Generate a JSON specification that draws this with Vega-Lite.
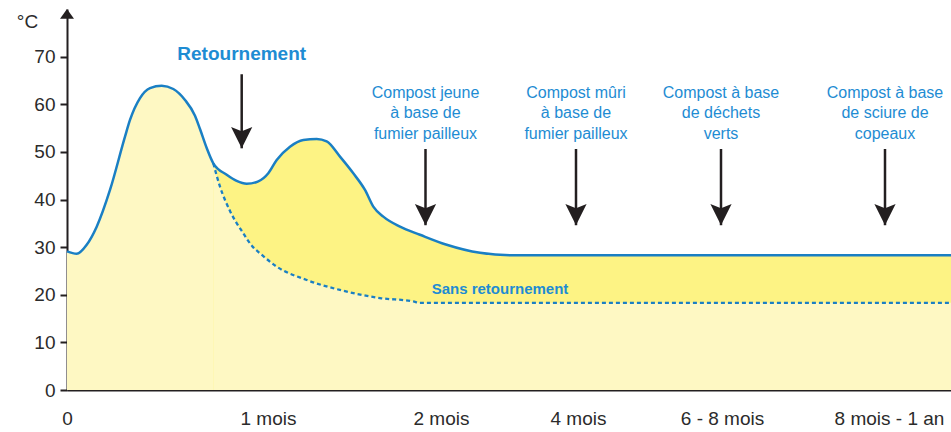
{
  "$schema": "https://vega.github.io/schema/vega-lite/v6.json",
  "width": 884,
  "height": 381,
  "autosize": {"type": "none"},
  "padding": {"left": 67, "top": 9, "right": 0, "bottom": 42},
  "background": "white",
  "config": {"view": {"stroke": null}, "font": "Liberation Sans"},
  "datasets": {
    "main": [
      {"x": 0, "y": 29.1}, {"x": 9.7, "y": 28.6}, {"x": 19.7, "y": 30.5}, {"x": 29.7, "y": 34.3},
      {"x": 43, "y": 42}, {"x": 58, "y": 53.2}, {"x": 63, "y": 56.7}, {"x": 73, "y": 61.3},
      {"x": 83, "y": 63.4}, {"x": 94.7, "y": 63.9}, {"x": 106.3, "y": 63.2}, {"x": 118, "y": 60.9},
      {"x": 128, "y": 57.6}, {"x": 133, "y": 54.8}, {"x": 139.7, "y": 50.8}, {"x": 146.3, "y": 47.6},
      {"x": 159.7, "y": 45.2}, {"x": 169.7, "y": 43.9}, {"x": 179.7, "y": 43.3}, {"x": 191.3, "y": 43.8},
      {"x": 201.3, "y": 45.5}, {"x": 209.7, "y": 48.3}, {"x": 223, "y": 51.1}, {"x": 236.3, "y": 52.5},
      {"x": 249.7, "y": 52.7}, {"x": 259.7, "y": 52.2}, {"x": 273, "y": 49}, {"x": 286.3, "y": 45.5},
      {"x": 298, "y": 42}, {"x": 306.3, "y": 38.5}, {"x": 316.3, "y": 36.4}, {"x": 333, "y": 34.3},
      {"x": 353, "y": 32.6}, {"x": 379.7, "y": 30.5}, {"x": 413, "y": 28.8}, {"x": 443, "y": 28.3},
      {"x": 884, "y": 28.3}
    ],
    "sans": [
      {"x": 146.3, "y": 47.6}, {"x": 153, "y": 42.7}, {"x": 163, "y": 37.6}, {"x": 176.3, "y": 32.9},
      {"x": 186, "y": 30}, {"x": 193, "y": 28.7}, {"x": 209.7, "y": 25.9}, {"x": 239.7, "y": 23.1},
      {"x": 273, "y": 21}, {"x": 313, "y": 19.3}, {"x": 346.3, "y": 18.6}, {"x": 353, "y": 18.3},
      {"x": 884, "y": 18.3}
    ],
    "arrows": [
      {"x": 174.7, "y": 66.3, "y2": 50.75},
      {"x": 358.5, "y": 50.6, "y2": 34.6},
      {"x": 509, "y": 50.6, "y2": 34.6},
      {"x": 654, "y": 50.6, "y2": 34.6},
      {"x": 818, "y": 50.6, "y2": 34.6}
    ],
    "notes": [
      {"x": 358.5, "y": 62.4, "label": "Compost jeune\nà base de\nfumier pailleux"},
      {"x": 509, "y": 62.4, "label": "Compost mûri\nà base de\nfumier pailleux"},
      {"x": 654, "y": 62.4, "label": "Compost à base\nde déchets\nverts"},
      {"x": 818, "y": 62.4, "label": "Compost à base\nde sciure de\ncopeaux"}
    ],
    "titles": [
      {"x": 174.7, "y": 70.6, "label": "Retournement", "kind": "big"},
      {"x": 433, "y": 21.2, "label": "Sans retournement", "kind": "small"}
    ],
    "yarrow": [{"x": 0, "y": 80}]
  },
  "encoding": {
    "x": {
      "field": "x", "type": "quantitative",
      "scale": {"domain": [0, 884], "nice": false, "zero": false},
      "axis": {
        "title": null,
        "values": [0, 201, 374, 511, 655, 822],
        "labelExpr": "datum.value == 0 ? '0' : datum.value == 201 ? '1 mois' : datum.value == 374 ? '2 mois' : datum.value == 511 ? '4 mois' : datum.value == 655 ? '6 - 8 mois' : '8 mois - 1 an'",
        "ticks": false, "grid": false,
        "domainColor": "#231f20", "domainWidth": 2,
        "labelFont": "Liberation Sans", "labelFontSize": 19, "labelColor": "#2b2b2b",
        "labelPadding": 19, "labelOverlap": false, "labelFlush": false, "labelBound": false
      }
    },
    "y": {
      "field": "y", "type": "quantitative",
      "scale": {"domain": [0, 80], "nice": false},
      "axis": {
        "title": "°C", "titleAngle": 0, "titleX": -40, "titleY": 12,
        "titleAlign": "center", "titleBaseline": "middle",
        "titleFont": "Liberation Sans", "titleFontSize": 19, "titleFontWeight": "normal", "titleColor": "#2b2b2b",
        "values": [0, 10, 20, 30, 40, 50, 60, 70],
        "grid": false, "tickSize": 7, "tickWidth": 2, "tickColor": "#231f20",
        "domainColor": "#231f20", "domainWidth": 2,
        "labelFont": "Liberation Sans", "labelFontSize": 19, "labelColor": "#2b2b2b", "labelPadding": 5
      }
    }
  },
  "layer": [
    {"data": {"name": "main"}, "mark": {"type": "area", "interpolate": "monotone", "color": "#fef8c3"}},
    {"data": {"name": "main"}, "transform": [{"filter": "datum.x >= 146.3"}], "mark": {"type": "area", "interpolate": "monotone", "color": "#fdf384"}},
    {"data": {"name": "sans"}, "mark": {"type": "area", "interpolate": "monotone", "color": "#fef8c3"}},
    {"data": {"name": "main"}, "mark": {"type": "line", "interpolate": "monotone", "color": "#1a7fc4", "strokeWidth": 2.5}},
    {"data": {"name": "sans"}, "mark": {"type": "line", "interpolate": "monotone", "color": "#1a7fc4", "strokeWidth": 2.3, "strokeDash": [4, 3]}},
    {"data": {"name": "arrows"}, "mark": {"type": "rule", "color": "#231f20", "strokeWidth": 2.5}, "encoding": {"y2": {"field": "y2"}}},
    {"data": {"name": "arrows"}, "mark": {"type": "point", "shape": "M0,0 L-1,-2 L0,-1.6 L1,-2 Z", "filled": true, "color": "#231f20", "opacity": 1, "size": 450}, "encoding": {"y": {"field": "y2", "type": "quantitative"}}},
    {"data": {"name": "notes"}, "mark": {"type": "text", "align": "center", "baseline": "middle", "lineBreak": "\n", "lineHeight": 20.5, "font": "Liberation Sans", "fontSize": 16, "color": "#1e8cd3"}, "encoding": {"text": {"field": "label"}}},
    {"data": {"name": "titles"}, "transform": [{"filter": "datum.kind == 'big'"}], "mark": {"type": "text", "align": "center", "baseline": "middle", "font": "Liberation Sans", "fontSize": 19, "fontWeight": "bold", "color": "#1e8cd3"}, "encoding": {"text": {"field": "label"}}},
    {"data": {"name": "titles"}, "transform": [{"filter": "datum.kind == 'small'"}], "mark": {"type": "text", "align": "center", "baseline": "middle", "font": "Liberation Sans", "fontSize": 15, "fontWeight": "bold", "color": "#1e8cd3"}, "encoding": {"text": {"field": "label"}}},
    {"data": {"name": "yarrow"}, "mark": {"type": "point", "shape": "M0,0 L-1,1.4 L1,1.4 Z", "filled": true, "color": "#231f20", "opacity": 1, "size": 196}}
  ]
}
